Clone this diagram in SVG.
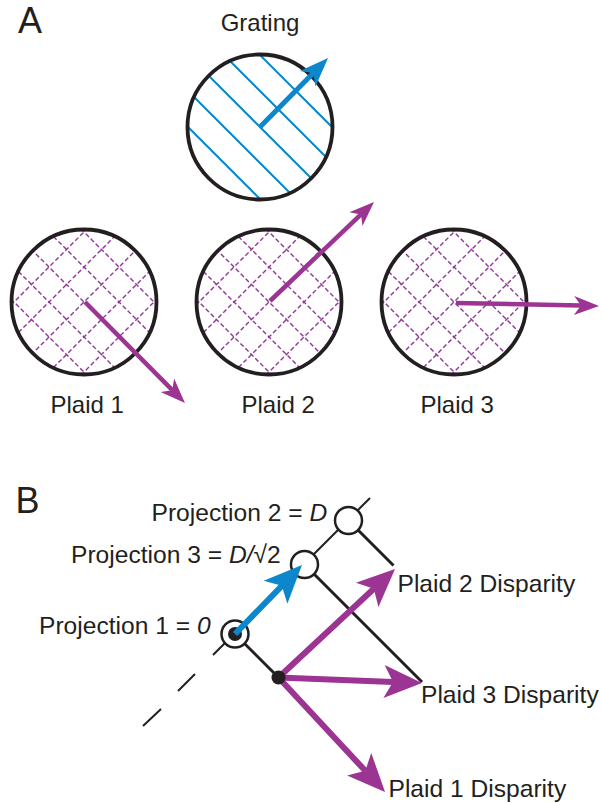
<svg xmlns="http://www.w3.org/2000/svg" xmlns:xlink="http://www.w3.org/1999/xlink" width="602" height="803" viewBox="0 0 602 803">
<style>
text{font-family:"Liberation Sans",Arial,sans-serif;fill:#231f20}
.lbl{font-size:24px}
.lblB{font-size:24.6px}
.big{font-size:36px}
.ring{fill:none;stroke:#231f20;stroke-width:3.8}
.hatch{stroke:#8f3796;stroke-width:1.4;stroke-dasharray:4.5 2.5;fill:none}
.grat{stroke:#0c87cc;stroke-width:2;fill:none}
.pA{stroke:#9b3493;stroke-width:4.5;fill:none;marker-end:url(#mA)}
.gA{stroke:#0c87cc;stroke-width:5;fill:none;marker-end:url(#mG)}
.pB{stroke:#9b3493;stroke-width:6;fill:none;marker-end:url(#mBp)}
.bB{stroke:#0c87cc;stroke-width:6;fill:none;marker-end:url(#mBb)}
.blk{stroke:#231f20;stroke-width:3;fill:none}
.proj{fill:#fff;stroke:#231f20;stroke-width:2.5}
</style>
<defs>
<marker id="mA" markerUnits="userSpaceOnUse" orient="auto" refX="0" refY="0" markerWidth="40" markerHeight="40" overflow="visible"><path d="M18,0 L-7,-9.5 L0,0 L-7,9.5 Z" fill="#9b3493"/></marker>
<marker id="mG" markerUnits="userSpaceOnUse" orient="auto" refX="0" refY="0" markerWidth="40" markerHeight="40" overflow="visible"><path d="M21,0 L-8,-11 L0,0 L-8,11 Z" fill="#0c87cc"/></marker>
<marker id="mBp" markerUnits="userSpaceOnUse" orient="auto" refX="0" refY="0" markerWidth="60" markerHeight="60" overflow="visible"><path d="M29,0 L-9,-16.5 L0,0 L-9,16.5 Z" fill="#9b3493"/></marker>
<marker id="mBb" markerUnits="userSpaceOnUse" orient="auto" refX="0" refY="0" markerWidth="60" markerHeight="60" overflow="visible"><path d="M29,0 L-9,-16.5 L0,0 L-9,16.5 Z" fill="#0c87cc"/></marker>
<clipPath id="cc"><circle cx="0" cy="0" r="72.5"/></clipPath>
<g id="hatch" class="hatch">
<path d="M-88,-18 L18,88 M-70.5,-35.5 L35.5,70.5 M-53,-53 L53,53 M-35.5,-70.5 L70.5,35.5 M-18,-88 L88,18"/>
<path d="M-88,18 L18,-88 M-70.5,35.5 L35.5,-70.5 M-53,53 L53,-53 M-35.5,70.5 L70.5,-35.5 M-18,88 L88,-18"/>
</g>
</defs>

<text class="big" x="18" y="33">A</text>
<text class="big" x="15.5" y="513">B</text>

<g id="grating">
<text class="lbl" x="260" y="31" text-anchor="middle">Grating</text>
<g transform="translate(260,127)" clip-path="url(#cc)">
<path class="grat" d="M-89,-17 L17,89 M-71,-35 L35,71 M-53,-53 L53,53 M-35,-71 L71,35 M-17,-89 L89,17"/>
</g>
<circle class="ring" cx="260" cy="127" r="72.5"/>
<path class="gA" d="M260,127 L313.3,73"/>
</g>

<g id="plaid1">
<g transform="translate(84,302)" clip-path="url(#cc)"><use xlink:href="#hatch" href="#hatch"/></g>
<circle class="ring" cx="84" cy="302" r="72.5"/>
<path class="pA" d="M85,302 L172.3,390.2"/>
<text class="lbl" x="50.5" y="413">Plaid 1</text>
</g>

<g id="plaid2">
<g transform="translate(269,302)" clip-path="url(#cc)"><use xlink:href="#hatch" href="#hatch"/></g>
<circle class="ring" cx="269" cy="302" r="72.5"/>
<path class="pA" d="M270,301 L361,214.4"/>
<text class="lbl" x="241.5" y="413">Plaid 2</text>
</g>

<g id="plaid3">
<g transform="translate(454,302)" clip-path="url(#cc)"><use xlink:href="#hatch" href="#hatch"/></g>
<circle class="ring" cx="454" cy="302" r="72.5"/>
<path class="pA" d="M456,303 L581,305.6"/>
<text class="lbl" x="420.5" y="413">Plaid 3</text>
</g>

<g id="connectors">
<path class="blk" d="M235,634 L278.5,677.5"/>
<path class="blk" d="M304.5,564.5 L422,682"/>
<path class="blk" d="M348.5,520.5 L393.5,565.5"/>
<path stroke="#231f20" stroke-width="2" fill="none" d="M370,498 L213,655 M195,674 L178,691 M161,709 L143,726"/>
</g>

<g id="proj2">
<circle class="proj" cx="348.5" cy="520.5" r="13.5"/>
<text class="lblB" x="151.5" y="521">Projection 2 = <tspan font-style="italic">D</tspan></text>
</g>
<g id="proj3">
<circle class="proj" cx="304.5" cy="564.5" r="13.5"/>
<text class="lblB" x="71" y="563">Projection 3 = <tspan font-style="italic">D/</tspan>√2</text>
</g>
<g id="proj1">
<circle class="proj" cx="235" cy="634" r="13.5"/>
<circle cx="235" cy="634" r="7" fill="#231f20"/>
<text class="lblB" x="39" y="634">Projection 1 = <tspan font-style="italic">0</tspan></text>
</g>

<g id="arrowsB">
<path class="bB" d="M235,634 L281.8,585.8"/>
<path class="pB" d="M278.5,677.5 L373.8,588.8"/>
<path class="pB" d="M278.5,677.5 L393,681.9"/>
<path class="pB" d="M278.5,677.5 L365.3,770.8"/>
</g>
<g id="origin">
<circle cx="278.5" cy="677.5" r="7" fill="#231f20"/>
</g>

<g id="disp2"><text class="lblB" x="397.5" y="592">Plaid 2 Disparity</text></g>
<g id="disp3"><text class="lblB" x="421" y="703">Plaid 3 Disparity</text></g>
<g id="disp1"><text class="lblB" x="388.5" y="797">Plaid 1 Disparity</text></g>
</svg>
